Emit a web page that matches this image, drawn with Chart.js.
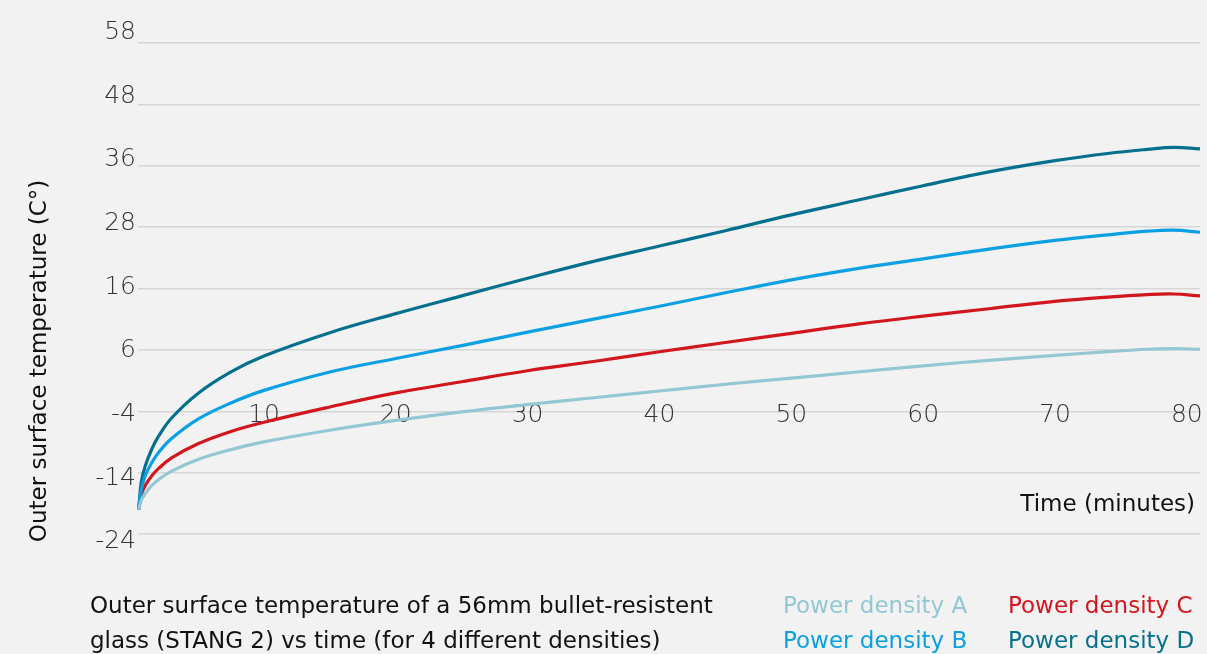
<!DOCTYPE html>
<html>
<head>
<meta charset="utf-8">
<script src="https://cdn.jsdelivr.net/npm/chart.js@4"></script>
<style>
  html, body { margin: 0; padding: 0; background: #f2f2f2; }
  body { width: 1207px; height: 654px; position: relative; overflow: hidden; font-family: "DejaVu Sans", sans-serif; }
  #wrap { position: absolute; left: 0; top: 0; width: 1207px; height: 654px; }
  .cap { position: absolute; left: 90px; top: 588px; font-size: 23px; line-height: 35px; color: #111; white-space: nowrap; }
  .leg { position: absolute; font-size: 23px; line-height: 35px; white-space: nowrap; }
</style>
</head>
<body>
<div id="wrap"><canvas id="c" width="1207" height="654"></canvas></div>
<div class="cap">Outer surface temperature of a 56mm bullet-resistent<br>glass (STANG 2) vs time (for 4 different densities)</div>
<div id="legend"></div>
<script>
// ---- data ----
const times = [0.5, 0.7, 1, 1.5, 2, 3, 5, 7.5, 10, 15, 20, 25, 30, 35, 40, 45, 50, 55, 60, 65, 70, 74, 77, 79, 81];
const densityA = [-20, -18.5, -17.4, -16.1, -15.15, -13.75, -11.85, -10.25, -9.0, -7.1, -5.5, -4.1, -2.9, -1.8, -0.7, 0.4, 1.4, 2.4, 3.4, 4.3, 5.1, 5.7, 6.1, 6.2, 6.1];
const densityB = [-20, -16.8, -14.5, -12.35, -10.75, -8.45, -5.3, -2.65, -0.6, 2.4, 4.6, 6.7, 8.9, 11.0, 13.1, 15.3, 17.7, 19.9, 21.8, 23.7, 25.4, 26.5, 27.2, 27.4, 27.0];
const densityC = [-20, -17.6, -16.1, -14.5, -13.35, -11.6, -9.3, -7.3, -5.8, -3.3, -1.0, 0.8, 2.6, 4.1, 5.7, 7.2, 8.7, 10.2, 11.5, 12.7, 13.9, 14.6, 15.0, 15.1, 14.8];
const densityD = [-20, -15.5, -12.9, -10.15, -8.1, -5.1, -1.1, 2.4, 5.0, 8.8, 11.9, 14.8, 18.0, 21.3, 24.3, 27.3, 29.6, 31.5, 33.4, 35.2, 37.0, 38.4, 39.2, 39.6, 39.3];
const yTickLabels = [-24, -14, -4, 6, 16, 28, 36, 48, 58];
const xTickValues = [10, 20, 30, 40, 50, 60, 70, 80];
const seriesNames = ['Power density A', 'Power density B', 'Power density C', 'Power density D'];
const seriesColors = ['#93c7d3', '#0aa0e3', '#d2161d', '#05708e'];
const captionY = 'Outer surface temperature (C°)';
const captionX = 'Time (minutes)';

// The y axis is evenly spaced between unevenly spaced tick labels:
// map a temperature onto the tick-index axis, piecewise between labels.
function toAxis(t) {
  const L = yTickLabels;
  for (let i = 0; i < L.length - 1; i++) {
    if (t <= L[i + 1] || i === L.length - 2) return i + (t - L[i]) / (L[i + 1] - L[i]);
  }
}

const allSeries = [densityA, densityB, densityC, densityD];
const datasets = allSeries.map((vals, k) => ({
  label: seriesNames[k],
  data: vals.map((v, i) => ({ x: times[i], y: toAxis(v) })),
  borderColor: seriesColors[k],
  borderWidth: 3.2,
  pointRadius: 0,
  fill: false,
  tension: 0.4,
  clip: false
}));

const labelFont = { family: '"DejaVu Sans", sans-serif', size: 25, weight: '300' };

const axisTitles = {
  id: 'axisTitles',
  afterDraw(chart) {
    const ctx = chart.ctx;
    ctx.save();
    ctx.fillStyle = '#111';
    ctx.font = '23px "DejaVu Sans", sans-serif';
    ctx.textBaseline = 'middle';
    ctx.textAlign = 'right';
    ctx.fillText(captionX, chart.chartArea.right - 5, 505);
    ctx.translate(40, 361);
    ctx.rotate(-Math.PI / 2);
    ctx.textAlign = 'center';
    ctx.fillText(captionY, 0, 0);
    ctx.restore();
  }
};

new Chart(document.getElementById('c'), {
  type: 'line',
  data: { datasets },
  options: {
    responsive: false,
    animation: false,
    layout: { padding: { top: 43, right: 7, bottom: 120, left: 0 } },
    plugins: { legend: { display: false }, tooltip: { enabled: false } },
    scales: {
      x: {
        type: 'linear',
        min: 0.45,
        max: 81,
        position: { y: 2 },
        afterBuildTicks: s => { s.ticks = xTickValues.map(v => ({ value: v })); },
        grid: { display: false },
        border: { display: false },
        ticks: { color: '#333', font: labelFont, padding: -19, maxRotation: 0, autoSkip: false }
      },
      y: {
        type: 'linear',
        position: 'left',
        min: 0,
        max: yTickLabels.length - 1,
        afterBuildTicks: s => { s.ticks = yTickLabels.map((v, i) => ({ value: i })); },
        afterFit: s => { s.width = 0; },
        grid: { color: '#d6d6d6', lineWidth: 1.5, drawTicks: false },
        border: { display: false },
        ticks: { display: false }
      },
      // label axis: in the reference the tick labels are spread slightly wider than the grid lines
      yLabels: {
        type: 'linear',
        position: 'left',
        min: 0.121,
        max: 7.835,
        afterBuildTicks: s => { s.ticks = yTickLabels.map((v, i) => ({ value: i })); },
        afterFit: s => { s.width = 138; },
        grid: { display: false, drawTicks: false },
        border: { display: false },
        ticks: { color: '#333', font: labelFont, padding: 2, autoSkip: false, callback: v => yTickLabels[v] }
      }
    }
  },
  plugins: [axisTitles]
});

// legend as coloured text
const legPos = [[783, 588], [783, 623], [1008, 588], [1008, 623]];
const legend = document.getElementById('legend');
seriesNames.forEach((n, k) => {
  const d = document.createElement('div');
  d.className = 'leg';
  d.style.left = legPos[k][0] + 'px';
  d.style.top = legPos[k][1] + 'px';
  d.style.color = seriesColors[k];
  d.textContent = n;
  legend.appendChild(d);
});
</script>
</body>
</html>
